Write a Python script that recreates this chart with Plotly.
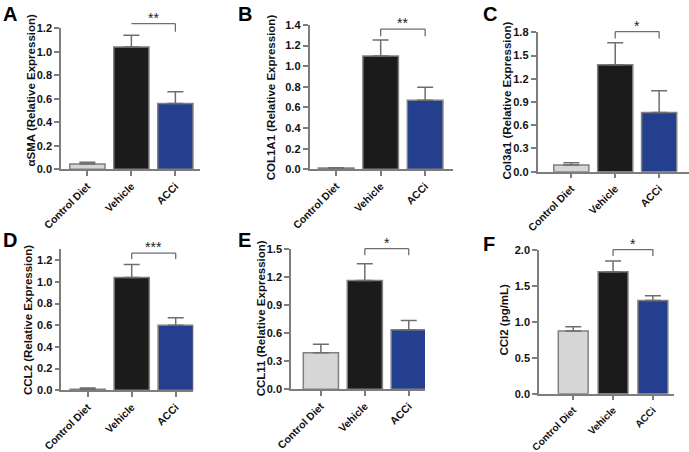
import plotly.graph_objects as go

W, H = 689, 452

categories = ["Control Diet", "Vehicle", "ACCi"]
panel_letters = ["A", "B", "C", "D", "E", "F"]
y_titles = ["αSMA (Relative Expression)", "COL1A1 (Relative Expression)",
            "Col3a1 (Relative Expression)", "CCL2 (Relative Expression)",
            "CCL11 (Relative Expression)", "CCl2 (pg/mL)"]

# mean values and (upper) SEM per panel
sma_mean = [0.045, 1.04, 0.56]
sma_err = [0.015, 0.10, 0.10]
col1a1_mean = [0.012, 1.10, 0.67]
col1a1_err = [0.004, 0.155, 0.125]
col3a1_mean = [0.085, 1.38, 0.765]
col3a1_err = [0.03, 0.285, 0.28]
ccl2_mean = [0.01, 1.04, 0.60]
ccl2_err = [0.012, 0.12, 0.07]
ccl11_mean = [0.39, 1.16, 0.635]
ccl11_err = [0.09, 0.18, 0.10]
ccl2_prot_mean = [0.875, 1.70, 1.30]
ccl2_prot_err = [0.06, 0.15, 0.065]

# y tick labels per panel
ticks_a = [0.0, 0.2, 0.4, 0.6, 0.8, 1.0, 1.2]
ticks_b = [0.0, 0.2, 0.4, 0.6, 0.8, 1.0, 1.2, 1.4]
ticks_c = [0.0, 0.3, 0.6, 0.9, 1.2, 1.5, 1.8]
ticks_d = [0.0, 0.2, 0.4, 0.6, 0.8, 1.0, 1.2]
ticks_e = [0.0, 0.3, 0.6, 0.9, 1.2, 1.5]
ticks_f = [0.0, 0.5, 1.0, 1.5, 2.0]

# significance annotations (Vehicle vs ACCi)
sig_labels = ["**", "**", "*", "***", "*", "*"]
bracket_levels = [1.24, 1.36, 1.81, 1.265, 1.50, 2.01]
bracket_leg_ends = [1.17, 1.29, 1.72, 1.21, 1.43, 1.92]

means = [sma_mean, col1a1_mean, col3a1_mean, ccl2_mean, ccl11_mean, ccl2_prot_mean]
errs = [sma_err, col1a1_err, col3a1_err, ccl2_err, ccl11_err, ccl2_prot_err]
ticks = [ticks_a, ticks_b, ticks_c, ticks_d, ticks_e, ticks_f]
y_tops = [1.2, 1.4, 1.8, 1.30, 1.5, 2.0]

# layout geometry (pixels): left axis x, right end x, bottom y, top y
geo = [
    (61.0, 200.0, 169.3, 28.3),
    (309.5, 452.7, 169.3, 25.0),
    (537.5, 689.0, 171.7, 32.3),
    (61.3, 193.3, 390.3, 249.3),
    (291.0, 425.0, 389.3, 248.7),
    (539.0, 674.0, 393.7, 250.3),
]
x_ranges = [(-0.6, 2.56), (-0.6, 2.62), (-0.77, 2.68), (-0.6, 2.4), (-0.68, 2.37), (-0.86, 2.53)]
bar_widths = [0.8, 0.8, 0.8, 0.8, 0.8, 0.75]
cat_font_sizes = [10.5, 10.5, 10.5, 10.5, 10.5, 10]
title_pos = [(30.5, 90), (271.3, 97), (506.5, 101), (28, 320), (261.3, 318), (504.3, 319.3)]
letter_pos = [(9.5, 13.5), (244.5, 13.5), (489.5, 13.5), (9.5, 239.5), (244, 239.5), (489, 244)]
left_leg = [False, True, True, True, True, True]

bar_colors = ["#d6d6d6", "#1b1b1b", "#233f8e"]
FONT = "Arial, 'Liberation Sans', sans-serif"
AX = "#7d7d7d"

fig = go.Figure()
annotations = []
shapes = []

for k in range(6):
    sfx = "" if k == 0 else str(k + 1)
    xa, ya = "x" + sfx, "y" + sfx
    fig.add_trace(go.Bar(
        x=categories, y=means[k], xaxis=xa, yaxis=ya,
        width=bar_widths[k],
        marker=dict(color=bar_colors, line=dict(color="#808080", width=1.5)),
        error_y=dict(type="data", symmetric=False, array=errs[k], arrayminus=[0, 0, 0],
                     color="#6e6e6e", thickness=1.5, width=8),
        showlegend=False, hoverinfo="skip",
    ))
    l, r, b, t = geo[k]
    xr = x_ranges[k]
    yfont = dict(family=FONT, size=11, color="#111111", weight="bold")
    xfont = dict(family=FONT, size=cat_font_sizes[k], color="#111111", weight="bold")
    fig.update_layout(**{
        ("xaxis" + sfx): dict(
            domain=[l / W, r / W], anchor=ya, range=list(xr), automargin=False,
            type="category", showline=True, linecolor=AX, linewidth=1.5,
            ticks="outside", ticklen=5, tickwidth=1.5, tickcolor=AX,
            tickangle=-45, tickfont=xfont, showgrid=False, zeroline=False,
        ),
        ("yaxis" + sfx): dict(
            domain=[1 - b / H, 1 - t / H], anchor=xa, range=[0, y_tops[k]], automargin=False,
            showline=True, linecolor=AX, linewidth=1.5,
            ticks="outside", ticklen=5, tickwidth=1.5, tickcolor=AX,
            tickvals=ticks[k], tickformat=".1f", tickfont=yfont,
            showgrid=False, zeroline=False,
        ),
    })

    # significance bracket between Vehicle (1) and ACCi (2)
    def fx(i):
        return (i - xr[0]) / (xr[1] - xr[0])
    yb = bracket_levels[k] / y_tops[k]
    ye = bracket_leg_ends[k] / y_tops[k]
    line = dict(color="#6e6e6e", width=1.3)
    shapes.append(dict(type="line", xref=xa + " domain", yref=ya + " domain",
                       x0=fx(1), x1=fx(2), y0=yb, y1=yb, line=line))
    shapes.append(dict(type="line", xref=xa + " domain", yref=ya + " domain",
                       x0=fx(2), x1=fx(2), y0=yb, y1=ye, line=line))
    if left_leg[k]:
        shapes.append(dict(type="line", xref=xa + " domain", yref=ya + " domain",
                           x0=fx(1), x1=fx(1), y0=yb, y1=ye, line=line))
    annotations.append(dict(
        text=sig_labels[k], xref=xa + " domain", yref=ya + " domain",
        x=fx(1.5), y=yb, xanchor="center", yanchor="bottom", yshift=-4,
        showarrow=False, font=dict(family=FONT, size=14, color="#222222"),
    ))
    # y-axis title
    tx, ty = title_pos[k]
    annotations.append(dict(
        text=y_titles[k], xref="paper", yref="paper", x=tx / W, y=1 - ty / H,
        xanchor="center", yanchor="middle", textangle=-90, showarrow=False,
        font=dict(family=FONT, size=11.5, color="#111111", weight="bold"),
    ))
    # panel letter
    lx, ly = letter_pos[k]
    annotations.append(dict(
        text=panel_letters[k], xref="paper", yref="paper", x=lx / W, y=1 - ly / H,
        xanchor="center", yanchor="middle", showarrow=False,
        font=dict(family=FONT, size=20, color="#000000", weight="bold"),
    ))

fig.update_layout(
    width=W, height=H, margin=dict(l=0, r=0, t=0, b=0, pad=0, autoexpand=False),
    paper_bgcolor="white", plot_bgcolor="white",
    annotations=annotations, shapes=shapes, bargap=0.2,
)

fig.write_html(
    "out.html",
    config={"displayModeBar": False},
    post_script="document.body.style.margin='0';document.body.style.padding='0';"
                "document.body.style.overflow='hidden';",
)
